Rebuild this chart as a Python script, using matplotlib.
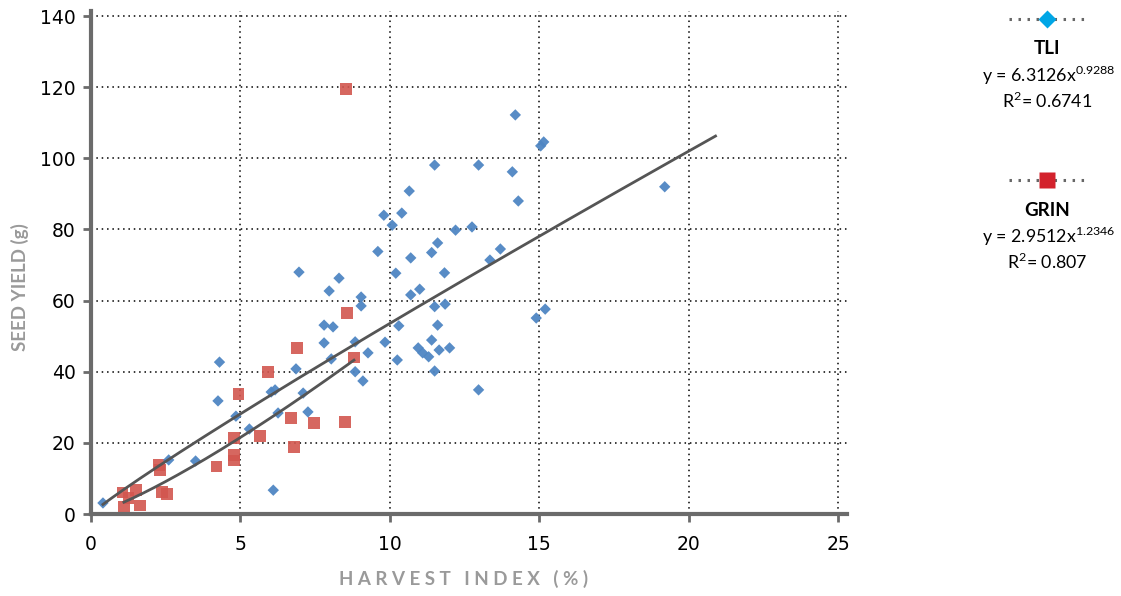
import matplotlib
matplotlib.use("Agg")
import matplotlib.pyplot as plt
from matplotlib.lines import Line2D
import numpy as np

#Colores
GRID_COLOR = "black"
SPINE_COLOR = "#6b6b6b"
LABEL_COLOR = "#9a9a9a"
TLI_COLOR = "#4f86c3"
GRIN_COLOR = "#d2564f"
TLI_KEY_COLOR = "#00a6e6"
GRIN_KEY_COLOR = "#d3222c"
TREND_COLOR = "#555555"
FONT = "Lato"
TICK_FONT = "DejaVu Sans"

#Datos TLI (harvest index %, seed yield g)
tliHarvestIndex = [
    0.4, 2.6, 3.5, 6.1, 5.3, 4.3, 4.25, 4.85, 6.03, 6.16, 6.26, 7.1, 7.26, 6.86,
    7.8, 8.04, 8.84, 9.27, 8.84, 9.1, 9.84, 6.96, 7.97, 8.3, 9.04, 9.04, 7.8, 8.1,
    10.2, 9.6, 10.7, 11.4, 11.83, 10.7, 11.0, 11.5, 11.85, 10.3, 11.6, 11.4,
    10.95, 11.1, 11.3, 11.65, 12.0, 10.25, 11.5, 12.97, 11.5, 12.97, 14.1, 14.3,
    10.65, 9.8, 10.4, 10.08, 12.2, 12.75, 11.6, 13.7, 13.35, 14.9, 15.2, 14.2,
    15.15, 15.05, 19.2,
]
tliSeedYield = [
    3.1, 15.2, 14.9, 6.7, 23.9, 42.7, 31.8, 27.5, 34.3, 34.9, 28.4, 34.0, 28.7, 40.8,
    48.1, 43.6, 48.4, 45.3, 40.0, 37.4, 48.3, 68.0, 62.7, 66.3, 61.0, 58.5, 53.1, 52.6,
    67.7, 73.8, 72.0, 73.5, 67.8, 61.6, 63.2, 58.3, 59.0, 52.9, 53.1, 48.9,
    46.7, 45.3, 44.2, 46.1, 46.7, 43.3, 40.2, 34.9, 98.1, 98.1, 96.2, 88.0,
    90.8, 84.0, 84.6, 81.2, 79.8, 80.7, 76.2, 74.5, 71.4, 55.1, 57.6, 112.2,
    104.6, 103.5, 92.0,
]

#Datos GRIN
grinHarvestIndex = [
    1.05, 1.5, 1.1, 1.65, 1.25, 2.27, 2.3, 2.37, 2.55, 4.2, 4.78, 4.78, 4.78,
    4.94, 5.65, 5.92, 6.7, 6.8, 6.9, 7.47, 8.5, 8.57, 8.81, 8.54,
]
grinSeedYield = [
    6.0, 6.7, 2.0, 2.4, 4.5, 13.8, 12.3, 6.2, 5.6, 13.4, 16.5, 15.0, 21.4,
    33.7, 22.0, 40.0, 27.0, 18.8, 46.6, 25.6, 25.9, 56.5, 44.0, 119.5,
]

#Ajustes potenciales y = a * x^b
tliFit = {"name": "TLI", "a": 6.3126, "b": 0.9288, "r2": "0.6741", "xRange": (0.4, 20.9)}
grinFit = {"name": "GRIN", "a": 2.9512, "b": 1.2346, "r2": "0.807", "xRange": (1.1, 8.8)}

X_TICKS = [0, 5, 10, 15, 20, 25]
Y_TICKS = [0, 20, 40, 60, 80, 100, 120, 140]

W, H = 1121, 596


def px2fig(x, y):
    """Convierte pixeles (origen arriba a la izquierda) a coordenadas de figura."""
    return x / W, 1 - y / H


fig = plt.figure(figsize=(W / 100, H / 100), dpi=100, facecolor="white")
ax = fig.add_axes([91 / W, (H - 514) / H, (847 - 91) / W, (514 - 10.7) / H])

# Grid punteado
for xv in X_TICKS[1:]:
    ax.axvline(xv, color=GRID_COLOR, linestyle=(0, (1, 2.5)), linewidth=1.1, zorder=0)
for yv in Y_TICKS[1:]:
    ax.axhline(yv, color=GRID_COLOR, linestyle=(0, (1, 2.5)), linewidth=1.1, zorder=0)

# Puntos
ax.scatter(tliHarvestIndex, tliSeedYield, marker="D", s=5.8 ** 2, color=TLI_COLOR,
           edgecolors="none", alpha=0.95, zorder=3)
ax.scatter(grinHarvestIndex, grinSeedYield, marker="s", s=8.4 ** 2, color=GRIN_COLOR,
           edgecolors="none", alpha=0.9, zorder=2)

# Lineas de tendencia
for fit in (tliFit, grinFit):
    xs = np.linspace(fit["xRange"][0], fit["xRange"][1], 200)
    ax.plot(xs, fit["a"] * xs ** fit["b"], color=TREND_COLOR, linewidth=2, zorder=4)

ax.set_xlim(0, 25.3)
ax.set_ylim(0, 141.5)
ax.set_xticks(X_TICKS)
ax.set_yticks(Y_TICKS)
ax.set_xticklabels([str(t) for t in X_TICKS], fontsize=13.5, fontname=TICK_FONT)
ax.set_yticklabels([str(t) for t in Y_TICKS], fontsize=13.5, fontname=TICK_FONT)
ax.tick_params(direction="out", length=6, width=2, color=SPINE_COLOR, pad=5)
ax.tick_params(axis="x", pad=9)

for side in ("top", "right"):
    ax.spines[side].set_visible(False)
for side in ("left", "bottom"):
    ax.spines[side].set_color(SPINE_COLOR)
    ax.spines[side].set_linewidth(3)

# Titulos de ejes
fig.text(*px2fig(464, 579), "H A R V E S T   I N D E X   ( % )", ha="center", va="center",
         fontsize=13.5, fontweight="bold", color=LABEL_COLOR, fontname=FONT)
fig.text(*px2fig(20, 287), "SEED YIELD (g)", ha="center", va="center", rotation=90,
         fontsize=13.5, fontweight="bold", color=LABEL_COLOR, fontname=FONT)

# Leyenda a la derecha
keyX = 1047
for fit, marker, color, ms, top in ((tliFit, "D", TLI_KEY_COLOR, 9.3, 19),
                                    (grinFit, "s", GRIN_KEY_COLOR, 11.5, 180)):
    x0, y0 = px2fig(1009, top)
    x1, _ = px2fig(1088, top)
    fig.add_artist(Line2D([x0, x1], [y0, y0], color="#666666", linewidth=2.2,
                          linestyle=(0, (0.8, 2.15)), transform=fig.transFigure))
    mx, my = px2fig(keyX, top)
    fig.add_artist(Line2D([mx], [my], marker=marker, markersize=ms, color=color,
                          markeredgecolor="none", linestyle="none", transform=fig.transFigure))
    fig.text(*px2fig(keyX, top + 30), fit["name"], ha="center", va="center",
             fontsize=13.5, fontweight="bold", fontname=FONT, color="black")
    fig.text(*px2fig(keyX + 2, top + 56),
             r"y = %.4fx$^{\mathregular{%s}}$" % (fit["a"], f"{fit['b']:.4f}"),
             ha="center", va="center", fontsize=12.8, fontname=FONT, color="black")
    fig.text(*px2fig(keyX, top + 82), r"R$^{\mathregular{2}}$= " + fit["r2"],
             ha="center", va="center", fontsize=12.8, fontname=FONT, color="black")

fig.savefig("out.png", dpi=100, facecolor="white")
